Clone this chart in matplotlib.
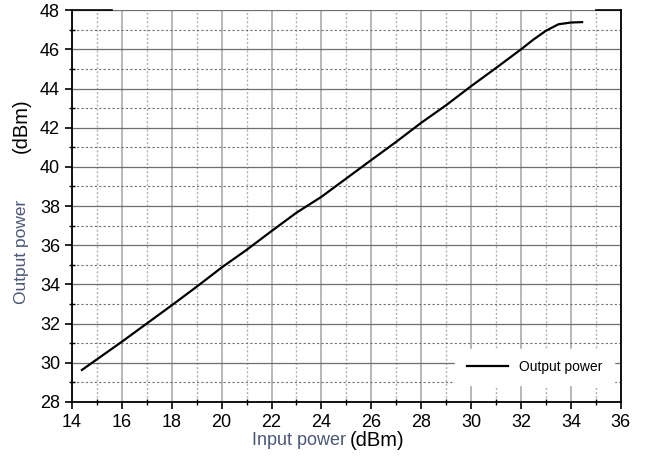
"""Output power vs input power curve."""

import matplotlib
matplotlib.use("Agg")
import matplotlib.pyplot as plt
from matplotlib.ticker import MultipleLocator

# data
input_power = [14.4, 15.0, 16.0, 17.0, 18.0, 19.0, 20.0, 21.0, 22.0, 23.0,
               24.0, 25.0, 26.0, 27.0, 28.0, 29.0, 30.0, 31.0, 32.0, 32.5,
               33.0, 33.5, 34.0, 34.45]
output_power = [29.63, 30.17, 31.07, 32.0, 32.93, 33.88, 34.86, 35.76, 36.72, 37.66,
                38.47, 39.41, 40.35, 41.28, 42.25, 43.15, 44.12, 45.05, 46.0, 46.5,
                46.95, 47.28, 47.37, 47.39]
series_label = "Output power"
x_ticks = list(range(14, 37, 2))
y_ticks = list(range(28, 49, 2))

plt.rcParams["font.family"] = ["Liberation Sans", "DejaVu Sans"]

fig = plt.figure(figsize=(6.48, 4.63), dpi=100)
ax = fig.add_axes([0.111, 0.132, 0.847, 0.846])

ax.plot(input_power, output_power, color="black", lw=1.6, label=series_label)

ax.set_xlim(14, 36)
ax.set_ylim(28, 48)
ax.set_xticks(x_ticks)
ax.set_yticks(y_ticks)
ax.xaxis.set_minor_locator(MultipleLocator(1))
ax.yaxis.set_minor_locator(MultipleLocator(1))
ax.tick_params(which="major", direction="out", length=5, width=1.2, labelsize=13)
ax.tick_params(which="minor", direction="inout", length=4, width=1)

# grid: light solid verticals, darker solid horizontals, dotted minors
ax.grid(True, axis="x", which="major", color="#b8b8b8", lw=1.4)
ax.grid(True, axis="y", which="major", color="#6e6e6e", lw=0.9)
ax.grid(True, axis="x", which="minor", color="#b0b0b0", lw=1.0, ls=(0, (1.5, 1.5)))
ax.grid(True, axis="y", which="minor", color="#707070", lw=0.8, ls=(0, (2, 2)))
ax.set_axisbelow(True)

for side in ["left", "bottom", "right"]:
    ax.spines[side].set_linewidth(1.3)
ax.spines["top"].set_visible(False)
# partial top border as in the source image
ax.plot([0, 0.073], [1, 1], transform=ax.transAxes, color="black", lw=1.2, clip_on=False)
ax.plot([0.955, 1], [1, 1], transform=ax.transAxes, color="black", lw=1.2, clip_on=False)

leg = ax.legend(loc="lower right", bbox_to_anchor=(1.0, 0.025), fontsize=10,
                frameon=True, fancybox=False, edgecolor="white", facecolor="white",
                framealpha=1, handlelength=3.0, borderpad=0.8)

label_col = "#4a5878"
fig.text(0.461, 0.048, "Input power", fontsize=13, color=label_col,
         ha="center", va="center")
fig.text(0.582, 0.048, "(dBm)", fontsize=14.5, color="black", ha="center", va="center")
fig.text(0.033, 0.457, "Output power", fontsize=12.5, color=label_col,
         rotation=90, ha="center", va="center")
fig.text(0.033, 0.728, "(dBm)", fontsize=14.5, color="black", rotation=90,
         ha="center", va="center")

fig.savefig("out.png", dpi=100)
